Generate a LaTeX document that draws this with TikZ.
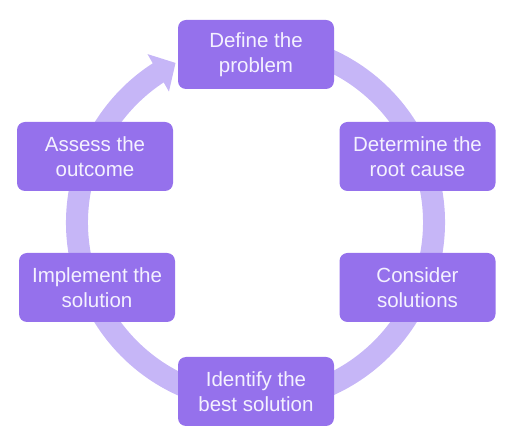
\documentclass[tikz,border=0pt]{standalone}
\usepackage{fontspec}
\setmainfont{Liberation Sans}
\usetikzlibrary{arrows.meta,bending}
\definecolor{boxpurple}{HTML}{9571EC}
\definecolor{ringlilac}{HTML}{C6B6F7}
\definecolor{softwhite}{HTML}{F4F1FF}

\begin{document}
\begin{tikzpicture}[x=1pt, y=-1pt,
  stage/.style={rectangle, rounded corners=8pt, fill=boxpurple, text=softwhite, minimum width=156pt, minimum height=69pt, inner sep=0pt, align=center, font=\fontsize{20.5}{25}\selectfont}]

\useasboundingbox (0,0) rectangle (512,435);

% Cycle ring
\coordinate (hub) at (255.5,222.5);
\draw[ringlilac, line width=22pt, -{Triangle[length=20pt, width=42pt]}] (hub) ++(-80:178.5) arc[start angle=-80, end angle=243.4, radius=178.5];

% Stages
\node[stage] (define) at (256,54.5) {Define the\\problem};
\node[stage] (root) at (417.5,156.5) {Determine the\\root cause};
\node[stage] (consider) at (417.5,287.5) {Consider\\solutions};
\node[stage] (best) at (256,391.5) {Identify the\\best solution};
\node[stage] (implement) at (97,287.5) {Implement the\\solution};
\node[stage] (assess) at (95,156.5) {Assess the\\outcome};

\end{tikzpicture}
\end{document}
